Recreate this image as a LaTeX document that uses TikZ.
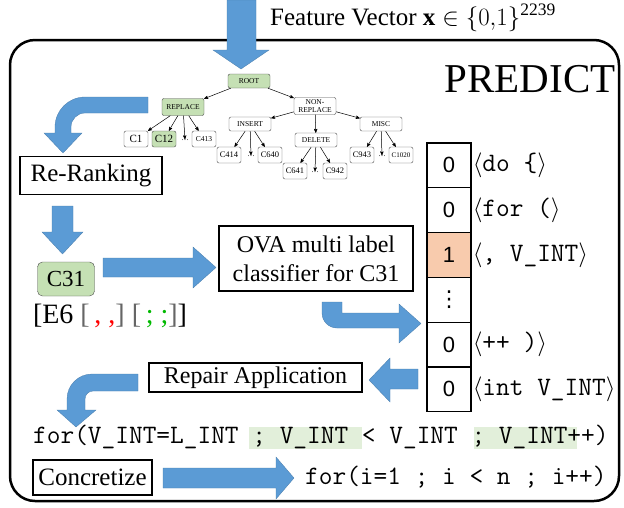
\documentclass[tikz,border=0pt]{standalone}
\usepackage{fontspec}
\setmainfont{Liberation Serif}
\newfontfamily\cellfont{Liberation Sans}
\newfontfamily\dotsfont{DejaVu Sans}
\usetikzlibrary{arrows,positioning}
\definecolor{arrowblue}{RGB}{91,155,213}
\definecolor{pickgreen}{RGB}{197,224,180}
\definecolor{codegreen}{RGB}{226,239,218}
\definecolor{cellorange}{RGB}{248,203,173}
\definecolor{semigreen}{RGB}{0,185,0}
\newcommand{\celldots}{{\dotsfont ⋮}}

\begin{document}
\begin{tikzpicture}[x=1pt,y=-1pt,>=stealth',
  cat node/.style={draw=black!70,rounded corners=2pt,minimum width=42pt,minimum height=14pt,inner sep=1pt,align=center,font=\fontsize{7.5}{8}\selectfont},
  leaf node/.style={draw=black!70,rounded corners=2pt,minimum width=24pt,minimum height=16pt,inner sep=1pt,font=\fontsize{8.5}{9}\selectfont},
  picked/.style={fill=pickgreen},
  dots node/.style={inner sep=0pt,font=\fontsize{7.5}{8}\selectfont},
  box node/.style={draw,line width=1.2pt,inner sep=2pt,align=center,font=\fontsize{24}{29}\selectfont},
  cell node/.style={draw,line width=1.2pt,minimum width=44pt,minimum height=44.8pt,inner sep=0pt,font=\cellfont\fontsize{22}{24}\selectfont},
  vec label/.style={inner sep=1pt,font=\ttfamily\fontsize{26.6}{28}\selectfont},
  code/.style={inner sep=0pt,font=\ttfamily\fontsize{26.6}{28}\selectfont},
  blue arrow/.style={fill=arrowblue,draw=arrowblue!80!black,line width=0.3pt}]
  \useasboundingbox (0,0) rectangle (624,507);

  % frame of the predict stage
  \draw[line width=2.5pt,rounded corners=25pt] (10,40) rectangle (619,501);

  \node[anchor=base west,inner sep=0pt,font=\fontsize{25}{28}\selectfont] (feat) at (270,25) {Feature Vector $\mathbf{x}\in\{0{,}1\}^{\mathrm{2239}}$};
  \node[font=\fontsize{41}{44}\selectfont] (predict) at (530,79) {PREDICT};

  % class tree
  \node[cat node,picked] (root) at (249,81) {ROOT};
  \node[cat node,picked,minimum height=17pt] (replace) at (183,107) {REPLACE};
  \node[cat node,minimum height=17pt,font=\fontsize{7.5}{7.5}\selectfont] (nonreplace) at (315,106) {NON-\\REPLACE};
  \node[cat node] (insert) at (250,124) {INSERT};
  \node[cat node] (delete) at (316,140) {DELETE};
  \node[cat node] (misc) at (381,124) {MISC};
  \node[leaf node,font=\fontsize{11}{12}\selectfont] (c1) at (136,139) {C1};
  \node[leaf node,picked,font=\fontsize{11}{12}\selectfont] (c12) at (164,139) {C12};
  \node[dots node] (dotsA) at (185,140) {\dots};
  \node[leaf node,font=\fontsize{7.5}{8}\selectfont] (c413) at (204,139) {C413};
  \node[leaf node] (c414) at (229,155) {C414};
  \node[dots node] (dotsB) at (251,156) {\dots};
  \node[leaf node] (c640) at (270,155) {C640};
  \node[leaf node] (c641) at (295,171) {C641};
  \node[dots node] (dotsC) at (315,172) {\dots};
  \node[leaf node] (c942) at (335,171) {C942};
  \node[leaf node] (c943) at (362,155) {C943};
  \node[dots node] (dotsD) at (382,156) {\dots};
  \node[leaf node,font=\fontsize{7}{8}\selectfont] (c1020) at (401,155) {C1020};

  \path[->,line width=0.5pt]
    (root) edge (replace)
    (root) edge (nonreplace)
    (replace) edge (c1)
    (replace) edge (c12)
    (replace) edge (dotsA)
    (replace) edge (c413)
    (nonreplace) edge (insert)
    (nonreplace) edge (delete)
    (nonreplace) edge (misc)
    (insert) edge (c414)
    (insert) edge (dotsB)
    (insert) edge (c640)
    (delete) edge (c641)
    (delete) edge (dotsC)
    (delete) edge (c942)
    (misc) edge (c943)
    (misc) edge (dotsD)
    (misc) edge (c1020);

  % left column
  \node[box node,minimum width=142pt,minimum height=38pt,font=\fontsize{25}{28}\selectfont] (rerank) at (91,175.5) {Re-Ranking};
  \node[draw=black!70,fill=pickgreen,rounded corners=5pt,minimum width=57pt,minimum height=34pt,font=\fontsize{23}{24}\selectfont] (c31) at (66,279) {C31};
  \node[font=\fontsize{28}{30}\selectfont] (edit) at (110,316) {[E6 \textcolor{black!60}{[}\,\textcolor{red}{,\ ,}\textcolor{black!60}{]} \textcolor{black!60}{[}\,\textcolor{semigreen}{;\ ;}\textcolor{black!60}{]}]};
  \node[box node,minimum width=194pt,minimum height=65pt] (ova) at (316,258.5) {OVA multi label\\classifier for C31};
  \node[box node,minimum width=213pt,minimum height=29pt] (repair) at (255.5,377.5) {Repair Application};
  \node[box node,minimum width=119pt,minimum height=35pt,font=\fontsize{25}{28}\selectfont] (concretize) at (92.5,477.5) {Concretize};

  % label vector
  \foreach \v/\f [count=\i] in {0/white,0/white,1/cellorange,\celldots/white,0/white,0/white}
    \node[cell node,fill=\f] (cell\i) at (449,{143+44.8*(\i-0.5)}) {\v};
  \node[vec label,right=0pt of cell1] (lab1) {$\langle$do \{$\rangle$};
  \node[vec label,right=0pt of cell2] (lab2) {$\langle$for ($\rangle$};
  \node[vec label,right=0pt of cell3] (lab3) {$\langle$, V\_INT$\rangle$};
  \node[vec label,right=0pt of cell5] (lab5) {$\langle$++ )$\rangle$};
  \node[vec label,right=0pt of cell6] (lab6) {$\langle$int V\_INT$\rangle$};

  % code lines
  \fill[codegreen] (249,427) rectangle (362,449);
  \fill[codegreen] (474,427) rectangle (577,449);
  \node[code,anchor=base west] (pattern) at (33,443) {for(V\_INT=L\_INT ; V\_INT < V\_INT ; V\_INT++)};
  \node[code,anchor=base west] (concrete) at (305,484) {for(i=1 ; i < n ; i++)};

  % block arrows
  \draw[blue arrow] (227,0) -- (256,0) -- (256,50) -- (269,50) -- (241,69) -- (213,50) -- (227,50) -- cycle;
  \draw[blue arrow] (148,97) -- (85,97) .. controls (68.4,97) and (55,110.4) .. (55,127) -- (55,133) -- (44,133) -- (63,153) -- (82,133) -- (71,133) -- (71,127) .. controls (71,119.3) and (77.3,113) .. (85,113) -- (148,113) -- cycle;
  \draw[blue arrow] (52,206) -- (73,206) -- (73,232) -- (83,232) -- (62.5,254) -- (42,232) -- (52,232) -- cycle;
  \draw[blue arrow] (103,258) -- (193,258) -- (193,247) -- (216,267.5) -- (193,288) -- (193,277) -- (103,277) -- cycle;
  \draw[blue arrow] (322,302) -- (322,313) .. controls (322,321.3) and (328.7,328) .. (337,328) -- (399,328) -- (399,343) -- (421,323.5) -- (399,304) -- (399,313) -- (342,313) -- (342,302) -- cycle;
  \draw[blue arrow] (418,369) -- (390,369) -- (390,358) -- (369,380) -- (390,402) -- (390,389) -- (418,389) -- cycle;
  \draw[blue arrow] (138,374) -- (92,374) .. controls (78.2,374) and (67,385.2) .. (67,399) -- (67,410) -- (57,410) -- (76,427) -- (96,410) -- (85,410) -- (85,399) .. controls (85,394.6) and (88.6,391) .. (93,391) -- (138,391) -- cycle;
  \draw[blue arrow] (163,468) -- (276,468) -- (276,457) -- (294,478) -- (276,499) -- (276,488) -- (163,488) -- cycle;
\end{tikzpicture}
\end{document}
